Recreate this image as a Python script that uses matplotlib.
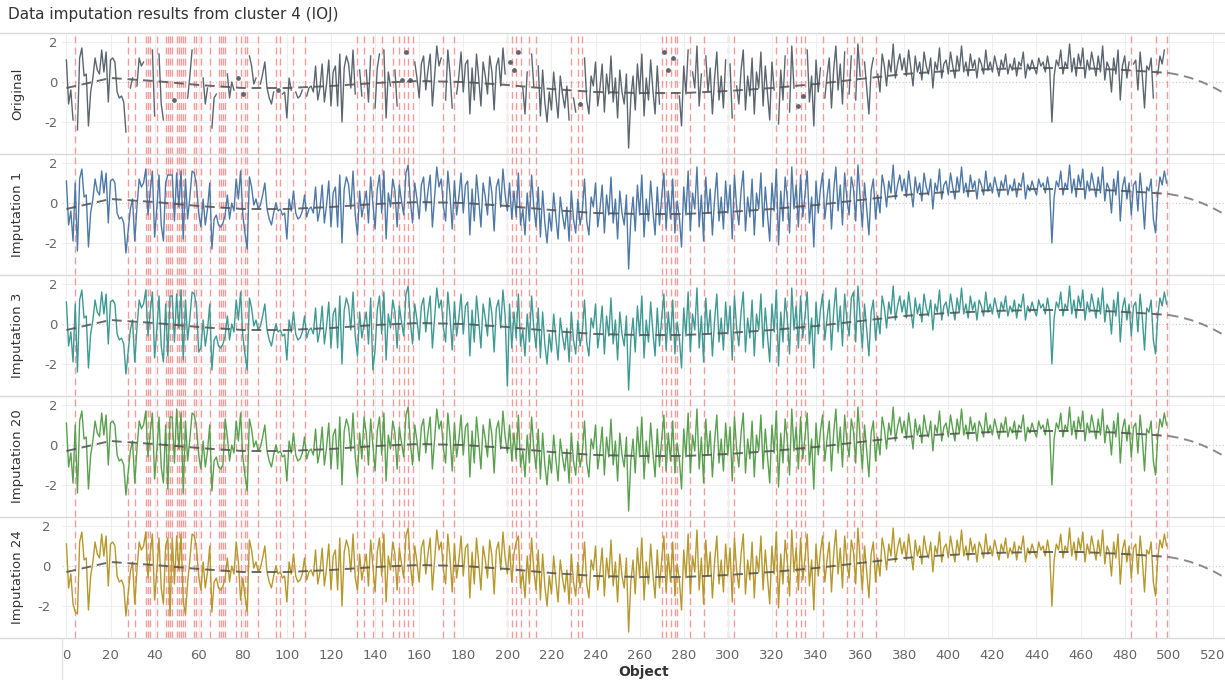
import numpy as np
import matplotlib

matplotlib.use("Agg")
import matplotlib.pyplot as plt

# ---- data ----
base = [
    1.1, -1.1, -0.4, -1.9, 1.0, -2.4, 1.2, 1.7, 0.3, 0.4, -2.2, -0.5, 0.2, 1.2, 0.6, 0.4, 1.6, 0.5, 1.5, -1.0,
    1.1, 1.2, 1.0, -0.5, -0.8, -0.7, -1.0, -2.5, -1.4, -0.3, 0.2, -1.9, -0.2, 1.2, 0.8, 1.0, 1.7, -0.6, 0.6, 1.6,
    -1.7, -0.3, 1.4, -1.1, -1.9, 1.0, 1.4, 1.4, 1.4, -0.9, 1.5, -0.2, 1.6, -1.8, 1.2, -0.8, 0.3, 1.6, 1.5, 0.9,
    -0.5, -1.2, 0.2, -1.1, -0.3, 1.0, -2.3, -0.8, -0.6, -1.1, -1.2, -1.0, -0.6, 0.4, -0.8, 0.0, -0.4, 1.2, 0.2, 1.6,
    -0.6, -1.5, -2.3, 1.3, 0.8, -0.1, 0.2, -0.3, -0.1, 0.4, 1.0, -0.3, -0.8, -1.1, -0.5, 0.0, -0.4, -0.3, -0.6, -0.5,
    -1.8, 0.2, -0.4, 0.6, -0.5, -0.8, -0.7, -0.4, 0.4, -0.7, -0.3, -0.2, -0.5, 0.8, -0.9, -0.3, 0.9, -1.0, -0.1, 1.1,
    -1.2, 0.5, 0.8, -1.2, 1.4, -2.0, 0.7, 1.3, 0.9, -0.3, 1.6, -0.6, -1.6, 0.6, -0.7, 0.0, 0.6, -1.0, 1.3, 0.0,
    -1.3, 0.7, 1.4, -0.5, 1.6, -1.8, 0.5, -0.2, 1.2, 0.6, -1.2, 0.9, 0.1, -0.6, 1.5, 1.9, 0.1, -1.0, 1.0, 0.2,
    -0.8, 0.9, 1.3, -0.4, 0.6, 1.4, -1.2, 0.3, 1.8, 0.8, 1.2, -0.2, -0.9, 1.6, 0.4, -1.3, 1.1, -0.6, 0.3, 1.5,
    -0.5, 0.9, 1.1, -1.6, 0.7, -0.9, 1.4, 0.2, -1.2, 1.0, 0.3, -0.6, 1.3, 0.5, -1.4, 0.8, 1.2, -0.2, 1.7, 0.4,
    -0.4, 1.0, -0.8, 0.6, -0.7, 1.5, -1.1, -0.3, -1.6, 0.5, -0.9, 1.4, -0.2, -1.2, 0.8, -1.7, 0.6, -1.0, -2.0, -0.5,
    -1.4, 0.5, -0.7, -1.8, 0.3, -0.6, -1.3, -0.2, -1.9, 0.6, -0.8, -1.5, 0.2, -1.1, -0.4, 1.2, -0.9, -1.6, 0.3, -0.2,
    1.0, -1.2, -0.3, 0.9, -1.5, 0.4, -0.6, 1.3, -1.0, 0.2, -1.8, 0.6, -0.5, -1.1, 0.4, -3.3, -0.8, 0.3, -1.4, 0.9,
    -0.6, 1.4, -1.7, 0.2, -0.9, 1.1, -0.4, -1.6, 0.8, -1.1, 0.3, 1.5, -1.3, 0.6, -0.8, 1.2, -1.5, 0.1, -0.7, -2.2,
    0.8, -0.6, 1.6, -1.4, 0.5, -0.3, 1.8, -1.2, 0.4, -1.9, 1.3, -0.5, 0.7, -1.6, 0.2, 1.5, -0.9, 0.3, -1.3, 1.1,
    -0.5, 0.9, -1.8, 1.4, -0.2, -1.1, 0.6, 1.6, -1.4, 0.3, -0.7, 1.2, -1.6, 0.5, -0.3, 1.5, -1.2, 0.8, -0.6, -1.9,
    1.0, -0.4, 1.7, -2.1, 0.6, -0.9, 1.3, 0.2, -1.5, 1.8, -0.3, 0.9, -1.2, 1.4, -0.7, 0.4, 1.6, -1.0, 0.3, -2.2,
    1.1, -0.5, 0.7, 1.5, -0.8, 0.3, 1.2, -1.3, 0.6, 1.8, -0.4, 0.9, -1.1, 1.5, 0.2, -0.6, 1.3, 0.7, -0.9, 1.9,
    0.3, -1.2, 1.0, -0.3, -1.6, 0.6, 1.2, -0.8, 0.4, -0.5, 1.4, 0.8, -0.2, 1.1, 0.5, 1.9, 0.2, 0.9, 1.4, 0.6,
    1.2, 0.3, 1.6, 0.7, -0.2, 1.3, 0.5, 1.0, 0.1, 1.5, 0.8, 0.4, 1.2, -0.3, 1.0, 0.6, 1.7, 0.2, 0.9, 1.1,
    0.4, 1.5, 0.8, 0.2, 1.3, 0.6, 1.8, 0.5, 1.0, 0.3, 1.4, 0.7, 1.1, 0.2, 1.2, 0.9, 0.4, 1.6, 0.6, 1.0,
    0.5, 1.3, 0.8, 0.3, 1.1, 0.7, 1.4, 0.4, 0.9, 0.6, 1.2, 0.3, 1.0, 0.8, 1.5, 0.2, 0.9, 0.6, 1.1, 0.7,
    0.4, 1.2, 0.8, 1.0, 0.5, 1.3, 0.6, -2.0, 0.3, 1.1, 0.8, 1.6, 0.4, 1.0, 0.7, 1.9, 0.5, 1.2, 0.3, 1.4,
    0.8, 1.7, 0.2, 1.1, 0.6, 1.5, 0.9, 0.3, 1.3, 0.5, 1.8, 0.1, 1.0, 0.7, -0.5, 1.2, 0.4, 1.6, -0.9, 0.8,
    1.3, 0.2, 1.0, -0.6, 0.9, 1.1, -0.4, 1.5, 0.3, -1.3, 0.8, 0.6, 1.2, -0.8, -1.5, 0.4, 1.3, 0.9, 1.6, 1.0,
]

missing = [4, 28, 31, 36, 37, 38, 41, 45, 46, 47, 48, 50, 51, 52, 53, 54, 58, 59, 60, 61,
           65, 69, 70, 71, 72, 77, 79, 81, 82, 87, 95, 97, 103, 108, 132, 135, 139, 143,
           148, 151, 153, 155, 157, 171, 176, 200, 202, 204, 206, 210, 213, 229, 232, 234,
           270, 272, 274, 276, 277, 283, 289, 300, 303, 322, 327, 331, 333, 335, 343, 354,
           357, 361, 367, 483, 494, 499]

# values imputed differently from Imputation 1 (object: value)
imp3_vals = {139: -2.3, 200: -3.1, 202: -1.2, 46: -1.6, 52: 1.7, 60: -1.4, 357: 1.6}
imp20_vals = {46: -2.2, 50: 1.8, 53: -2.4, 72: 1.3, 135: 1.4, 276: -1.4}
imp24_vals = {4: -2.3, 47: -2.5, 52: 1.6, 54: -2.4, 79: -1.7, 132: -1.2, 204: 1.2}

# trend line (polynomial fit shown in the reference), read every 20 objects
trend_x = [0, 20, 40, 60, 80, 100, 120, 140, 160, 180, 200, 220, 240, 260, 280, 300,
           320, 340, 360, 380, 400, 420, 440, 460, 480, 500, 505, 510, 515, 520, 525]
trend_y = [-0.3, 0.2, 0.05, -0.15, -0.3, -0.3, -0.2, -0.05, 0.05, 0.0, -0.15, -0.35,
           -0.5, -0.55, -0.55, -0.45, -0.3, -0.1, 0.15, 0.4, 0.55, 0.65, 0.7, 0.7, 0.6,
           0.45, 0.35, 0.2, 0.0, -0.25, -0.55]

rows = ["Original", "Imputation 1", "Imputation 3", "Imputation 20", "Imputation 24"]
colors = ["#5b6670", "#4e79a7", "#3f9a94", "#59a14f", "#b6992d"]
xticks = list(range(0, 521, 20))

# ---- series per row ----
obj = np.arange(len(base))
base_arr = np.array(base, dtype=float)
orig = base_arr.copy()
orig[missing] = np.nan
series = [orig, base_arr.copy()]
for over in (imp3_vals, imp20_vals, imp24_vals):
    s = base_arr.copy()
    for k, v in over.items():
        s[k] = v
    series.append(s)

# ---- layout (pixel based, 1225x680) ----
W, H = 1225, 680
fig = plt.figure(figsize=(W / 100, H / 100), dpi=100)
left_px, top_px, panel_h = 62, 33, 121


def px_box(x0, y0, w, h):
    return [x0 / W, 1 - (y0 + h) / H, w / W, h / H]


axes = []
for i, name in enumerate(rows):
    ax = fig.add_axes(px_box(left_px, top_px + i * panel_h, W - left_px, panel_h))
    axes.append(ax)
    ax.set_xlim(-2, 525.5)
    ax.set_ylim(-3.6, 2.45)
    for s in ax.spines.values():
        s.set_visible(False)
    ax.set_xticks(xticks)
    ax.tick_params(length=0, labelbottom=False, labelsize=9.5, colors="#666666")
    ax.set_yticks([-2, 0, 2])
    ax.set_yticklabels(["-2", "0", "2"])
    ax.grid(axis="x", color="#efefef", lw=0.8)
    for yy in (-2, 2):
        ax.axhline(yy, color="#efefef", lw=0.8, zorder=0)
    ax.axhline(0, color="#c8c8c8", lw=0.8, ls=(0, (1, 2)), zorder=0)

    for m in missing:
        ax.axvline(m, color="#f29c9c", lw=1.0, ls=(0, (5, 3)), zorder=1)

    y = series[i]
    ax.plot(obj, y, color=colors[i], lw=1.0, zorder=3)
    if i == 0:
        iso = [k for k in range(len(y)) if not np.isnan(y[k])
               and (k == 0 or np.isnan(y[k - 1]))
               and (k == len(y) - 1 or np.isnan(y[k + 1]))]
        ax.plot(obj[iso], y[iso], "o", color=colors[i], ms=2.4, zorder=3)

    tx = np.array(trend_x)
    ty = np.array(trend_y)
    ax.plot(tx[tx <= 500], ty[tx <= 500], color="#505050", lw=1.4, ls=(0, (5, 3)),
            alpha=0.85, zorder=4)
    ax.plot(tx[tx >= 500], ty[tx >= 500], color="#8a8a8a", lw=1.4, ls=(0, (5, 3)), zorder=4)

    bb = ax.get_position()
    fig.text(18 / W, bb.y0 + bb.height / 2, name, rotation=90, ha="center", va="center",
             fontsize=9.5, color="#333333")

# separators
for i in range(len(rows) + 1):
    yy = 1 - (top_px + i * panel_h) / H
    fig.add_artist(plt.Line2D([0, 1], [yy, yy], transform=fig.transFigure, color="#d9d9d9", lw=1.0))
bottom_y = 1 - (top_px + len(rows) * panel_h) / H
fig.add_artist(plt.Line2D([left_px / W, left_px / W], [0, bottom_y], transform=fig.transFigure,
                          color="#e3e3e3", lw=1.0))

# x tick labels below the last panel
last = axes[-1]
last.tick_params(labelbottom=True, pad=8)
last.set_xlabel("Object", fontsize=10, fontweight="bold", color="#333333", labelpad=2)

fig.text(8 / W, 1 - 15 / H, "Data imputation results from cluster 4 (IOJ)", ha="left", va="center",
         fontsize=11, color="#333333")

fig.savefig("out.png", dpi=100)
